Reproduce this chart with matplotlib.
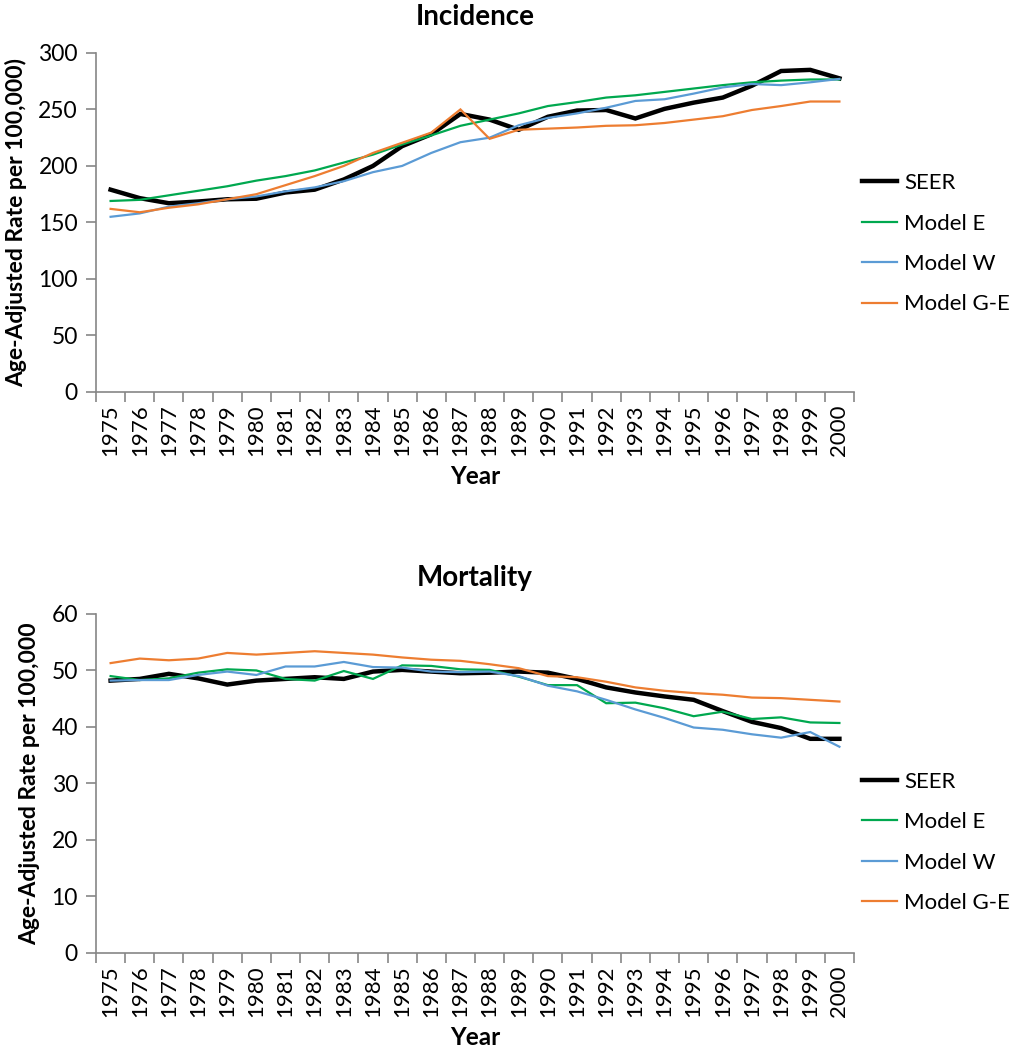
import matplotlib

matplotlib.use("Agg")
import matplotlib.pyplot as plt
from matplotlib.ticker import MultipleLocator

plt.rcParams["font.family"] = ["Lato", "DejaVu Sans"]

years = list(range(1975, 2001))

# Incidence (age-adjusted rate per 100,000)
inc_seer = [179, 171.5, 167, 168.5, 170.5, 171, 176.5, 179, 188, 200, 217.5, 228, 246,
            241, 232, 243.5, 249, 249.5, 242, 250.5, 256, 260.5, 271, 284, 285, 277.5]
inc_model_e = [169, 170, 174, 178, 182, 187, 191, 196, 203, 210, 219, 227, 235.5,
               241, 246.5, 253, 256.5, 260.5, 262.5, 265.5, 268.5, 271.5, 274, 275.5, 276.5, 276.5]
inc_model_w = [155, 158, 164, 167, 170.5, 173, 177.5, 181, 186.5, 194.5, 200, 211.5, 221,
               225, 236, 242.5, 246.5, 251.5, 257.5, 259, 264, 269.5, 272.5, 271.5, 274, 277]
inc_model_ge = [162, 159, 163, 166, 170.5, 175, 183, 191, 200, 211.5, 220.5, 229.5, 250,
                224, 232, 233, 234, 235.5, 236, 238, 241, 244, 249.5, 253, 257, 257]

# Mortality (age-adjusted rate per 100,000)
mort_seer = [48.2, 48.5, 49.4, 48.6, 47.5, 48.2, 48.5, 48.8, 48.5, 49.8, 50.1, 49.8, 49.5,
             49.6, 49.8, 49.6, 48.5, 47.0, 46.1, 45.4, 44.8, 42.8, 40.9, 39.8, 37.9, 37.9]
mort_model_e = [49.0, 48.3, 48.6, 49.6, 50.2, 50.0, 48.5, 48.2, 49.9, 48.5, 50.9, 50.8, 50.2,
                50.1, 48.9, 47.4, 47.4, 44.2, 44.3, 43.3, 41.9, 42.7, 41.4, 41.7, 40.8, 40.7]
mort_model_w = [48.2, 48.3, 48.3, 49.2, 49.8, 49.2, 50.7, 50.7, 51.5, 50.6, 50.5, 49.8, 49.7,
                49.8, 49.0, 47.3, 46.3, 44.8, 43.1, 41.6, 39.9, 39.5, 38.7, 38.1, 39.1, 36.5]
mort_model_ge = [51.3, 52.1, 51.8, 52.1, 53.1, 52.8, 53.1, 53.4, 53.1, 52.8, 52.3, 51.9, 51.7,
                 51.1, 50.4, 49.0, 48.8, 48.0, 47.0, 46.4, 46.0, 45.7, 45.2, 45.1, 44.8, 44.5]

series_names = ["SEER", "Model E", "Model W", "Model G-E"]
colors = ["#000000", "#00a84f", "#5b9bd5", "#ed7d31"]
widths = [3.2, 1.6, 1.6, 1.6]
GREY = "#868686"


def panel(ax, title, series, ymax, ystep, ylabel, legend_y):
    for vals, name, c, lw in zip(series, series_names, colors, widths):
        ax.plot(years, vals, color=c, lw=lw, label=name, solid_joinstyle="miter")
    ax.set_xlim(years[0] - 0.5, years[-1] + 0.5)
    ax.set_ylim(0, ymax)
    ax.yaxis.set_major_locator(MultipleLocator(ystep))
    ax.set_xticks(years)
    ax.set_xticklabels([str(y) for y in years], rotation=90)
    ax.set_xticks([y - 0.5 for y in years] + [years[-1] + 0.5], minor=True)
    ax.tick_params(axis="x", which="major", length=0, pad=9, labelsize=16)
    ax.tick_params(axis="x", which="minor", length=7, color=GREY, width=1.2)
    ax.tick_params(axis="y", length=7, color=GREY, width=1.2, pad=6, labelsize=16.5)
    for s in ("top", "right"):
        ax.spines[s].set_visible(False)
    for s in ("left", "bottom"):
        ax.spines[s].set_color(GREY)
        ax.spines[s].set_linewidth(1.2)
    ax.set_title(title, fontsize=20, fontweight="bold", pad=20)
    ax.set_xlabel("Year", fontsize=17.5, fontweight="bold", labelpad=6)
    ax.set_ylabel(ylabel, fontsize=16.5, fontweight="bold", labelpad=8)
    ax.legend(loc="center left", bbox_to_anchor=(1.0, legend_y), frameon=False,
              fontsize=16, handlelength=1.6, handletextpad=0.3, labelspacing=0.92,
              borderpad=0.2, borderaxespad=0.15)


fig = plt.figure(figsize=(10.14, 10.5), dpi=100)
ax1 = fig.add_axes([0.0947, 0.6267, 0.7475, 0.3229])
ax2 = fig.add_axes([0.0947, 0.0924, 0.7475, 0.3229])

panel(ax1, "Incidence", [inc_seer, inc_model_e, inc_model_w, inc_model_ge],
      300, 50, "Age-Adjusted Rate per 100,000)", 0.437)
panel(ax2, "Mortality", [mort_seer, mort_model_e, mort_model_w, mort_model_ge],
      60, 10, "Age-Adjusted Rate per 100,000", 0.326)

fig.savefig("out.png", dpi=100)
